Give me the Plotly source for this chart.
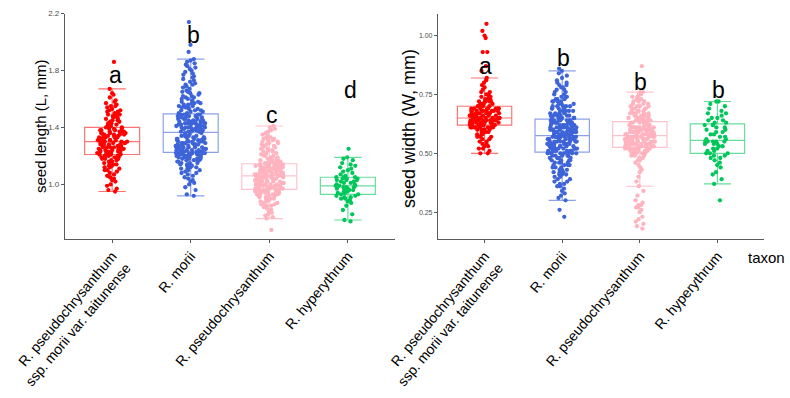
import plotly.graph_objects as go

taxa = ["R. pseudochrysanthum<br>ssp. morii var. taitunense", "R. morii",
        "R. pseudochrysanthum", "R. hyperythrum"]
colors = ["#FF0000", "#3D64D8", "#FFB3BF", "#00C75A"]
box_colors = ["rgba(255,0,0,0.55)", "rgba(61,100,216,0.6)", "rgba(255,179,191,0.8)", "rgba(0,199,90,0.6)"]

# seed length (L, mm)
len_ssp = [0.95, 0.96, 0.97, 0.99, 1.00, 1.02, 1.03, 1.04, 1.05, 1.06, 1.07, 1.08, 1.09, 1.10, 1.10,
           1.11, 1.12, 1.12, 1.13, 1.13, 1.14, 1.14, 1.15, 1.15, 1.16, 1.16, 1.17, 1.17, 1.18, 1.18,
           1.18, 1.19, 1.19, 1.19, 1.20, 1.20, 1.20,
           1.21, 1.21, 1.21, 1.21, 1.22, 1.22, 1.22, 1.22, 1.23, 1.23, 1.23, 1.23, 1.24, 1.24, 1.24, 1.24,
           1.25, 1.25, 1.25, 1.25, 1.26, 1.26, 1.26, 1.26, 1.27, 1.27, 1.27, 1.27, 1.28, 1.28, 1.28, 1.28,
           1.29, 1.29, 1.29, 1.29, 1.30, 1.30,
           1.30, 1.30, 1.31, 1.31, 1.31, 1.31, 1.32, 1.32, 1.32, 1.32, 1.33, 1.33, 1.33, 1.33,
           1.34, 1.34, 1.34, 1.34, 1.35, 1.35, 1.35, 1.35, 1.36, 1.36, 1.36, 1.36, 1.37, 1.37, 1.37, 1.37,
           1.38, 1.38, 1.38, 1.39, 1.39, 1.39, 1.40,
           1.40, 1.41, 1.41, 1.42, 1.42, 1.43, 1.43, 1.44, 1.44, 1.45, 1.45, 1.46, 1.46, 1.47, 1.47,
           1.48, 1.48, 1.49, 1.49, 1.50, 1.50, 1.51, 1.51, 1.52, 1.52, 1.53, 1.54, 1.55, 1.55, 1.56,
           1.57, 1.58, 1.59, 1.61, 1.63, 1.64, 1.67, 1.86]
len_morii = [0.92, 0.93, 0.96, 0.98, 1.00, 1.01, 1.02, 1.03, 1.04, 1.05, 1.06, 1.07, 1.08, 1.08, 1.09,
             1.10, 1.10, 1.11, 1.11, 1.12, 1.12, 1.13, 1.13, 1.14, 1.14, 1.14, 1.15, 1.15, 1.15,
             1.16, 1.16, 1.16, 1.17, 1.17, 1.17, 1.18, 1.18, 1.18, 1.18, 1.19, 1.19, 1.19, 1.19,
             1.20, 1.20, 1.20, 1.20, 1.21, 1.21, 1.21, 1.21, 1.21, 1.22, 1.22, 1.22, 1.22, 1.22, 1.22, 1.22, 1.22,
             1.23, 1.23, 1.23, 1.23, 1.23, 1.24, 1.24, 1.24, 1.24, 1.24, 1.25, 1.25, 1.25, 1.25, 1.25,
             1.26, 1.26, 1.26, 1.26, 1.26, 1.27, 1.27, 1.27, 1.27, 1.27, 1.28, 1.28, 1.28, 1.28, 1.28,
             1.29, 1.29, 1.29, 1.29, 1.29, 1.30, 1.30, 1.30, 1.30, 1.30, 1.31, 1.31, 1.31, 1.31,
             1.32, 1.32, 1.32, 1.32, 1.33, 1.33, 1.33, 1.33, 1.34, 1.34, 1.34, 1.34, 1.35, 1.35, 1.36, 1.36,
             1.37, 1.37, 1.37, 1.37, 1.37, 1.38, 1.38, 1.38, 1.38, 1.38, 1.39, 1.39, 1.39, 1.39, 1.39,
             1.40, 1.40, 1.40, 1.40, 1.40, 1.41, 1.41, 1.41, 1.41, 1.41, 1.42, 1.42, 1.42, 1.42, 1.42,
             1.43, 1.43, 1.43, 1.43, 1.43, 1.44, 1.44, 1.44, 1.44, 1.44, 1.45, 1.45, 1.45, 1.45,
             1.46, 1.46, 1.46, 1.46, 1.47, 1.47, 1.47, 1.47, 1.48, 1.48, 1.48, 1.48, 1.49, 1.49, 1.49, 1.49,
             1.50, 1.50, 1.51, 1.51, 1.52, 1.52, 1.52, 1.53, 1.53, 1.54, 1.54, 1.55, 1.55, 1.55, 1.56, 1.56,
             1.57, 1.57, 1.57, 1.58, 1.58, 1.59, 1.60, 1.60, 1.61, 1.61, 1.62, 1.62, 1.63, 1.64, 1.64,
             1.65, 1.65, 1.66, 1.67, 1.68, 1.69, 1.70, 1.70, 1.71, 1.72, 1.73, 1.74, 1.75, 1.76, 1.77,
             1.78, 1.79, 1.80, 1.81, 1.82, 1.83, 1.84, 1.85, 1.86, 1.87, 1.88, 1.93, 1.98, 2.14]
len_pseudo = [0.68, 0.76, 0.77, 0.78, 0.79, 0.80, 0.81, 0.82, 0.83, 0.84, 0.85, 0.85, 0.86, 0.86, 0.87,
              0.87, 0.88, 0.88, 0.89, 0.89, 0.90, 0.90, 0.90, 0.91, 0.91, 0.91, 0.92, 0.92, 0.92, 0.92,
              0.93, 0.93, 0.93, 0.93, 0.94, 0.94, 0.94, 0.94, 0.94, 0.95, 0.95, 0.95, 0.95, 0.95,
              0.96, 0.96, 0.96, 0.96, 0.96, 0.96,
              0.97, 0.97, 0.97, 0.97, 0.97, 0.98, 0.98, 0.98, 0.98, 0.98, 0.99, 0.99, 0.99, 0.99, 0.99,
              1.00, 1.00, 1.00, 1.00, 1.00, 1.01, 1.01, 1.01, 1.01, 1.01, 1.02, 1.02, 1.02, 1.02, 1.02,
              1.03, 1.03, 1.03, 1.03, 1.03, 1.04, 1.04, 1.04, 1.04, 1.04, 1.05, 1.05, 1.05, 1.05, 1.05,
              1.06, 1.06, 1.06, 1.06, 1.06, 1.06, 1.06,
              1.07, 1.07, 1.07, 1.07, 1.07, 1.07, 1.08, 1.08, 1.08, 1.08, 1.08, 1.08,
              1.09, 1.09, 1.09, 1.09, 1.09, 1.09, 1.10, 1.10, 1.10, 1.10, 1.10, 1.10,
              1.11, 1.11, 1.11, 1.11, 1.11, 1.11, 1.12, 1.12, 1.12, 1.12, 1.12, 1.12,
              1.13, 1.13, 1.13, 1.13, 1.13, 1.13, 1.14, 1.14, 1.14, 1.14, 1.14, 1.14,
              1.15, 1.15, 1.15, 1.16, 1.16, 1.16, 1.17, 1.17, 1.17, 1.18, 1.18, 1.18,
              1.19, 1.19, 1.20, 1.20, 1.21, 1.21, 1.22, 1.22, 1.23, 1.23, 1.24, 1.24, 1.25, 1.25,
              1.26, 1.26, 1.27, 1.27, 1.28, 1.28, 1.29, 1.29, 1.30, 1.30, 1.31, 1.31, 1.32, 1.32,
              1.33, 1.33, 1.34, 1.35, 1.36, 1.37, 1.38, 1.39, 1.40, 1.41]
len_hyper = [0.74, 0.75, 0.79, 0.82, 0.85, 0.87, 0.88, 0.89, 0.90, 0.90, 0.91, 0.91, 0.92, 0.92, 0.93,
             0.93, 0.94, 0.94, 0.95, 0.95, 0.96, 0.96, 0.97, 0.97, 0.97, 0.98, 0.98, 0.98, 0.99, 0.99,
             0.99, 1.00, 1.00, 1.01, 1.01, 1.02, 1.02, 1.03, 1.03, 1.03, 1.04, 1.04, 1.04, 1.05, 1.05,
             1.05, 1.06, 1.07, 1.08, 1.09, 1.10, 1.11, 1.12, 1.13, 1.14, 1.15, 1.17, 1.18, 1.19, 1.25]

# seed width (W, mm)
wid_ssp = [0.50, 0.50, 0.51, 0.52, 0.52, 0.53, 0.53, 0.54, 0.54, 0.55, 0.55, 0.56, 0.56,
           0.57, 0.57, 0.57, 0.58, 0.58, 0.58, 0.59, 0.59, 0.59, 0.59, 0.60, 0.60, 0.60, 0.60, 0.60,
           0.61, 0.61, 0.61, 0.61, 0.61, 0.61, 0.61, 0.61, 0.61,
           0.62, 0.62, 0.62, 0.62, 0.62, 0.62, 0.62, 0.62, 0.62,
           0.63, 0.63, 0.63, 0.63, 0.63, 0.63, 0.63, 0.63, 0.63, 0.63,
           0.64, 0.64, 0.64, 0.64, 0.64, 0.64, 0.64, 0.64, 0.64, 0.64,
           0.65, 0.65, 0.65, 0.65, 0.65, 0.65, 0.65, 0.65, 0.65, 0.65,
           0.66, 0.66, 0.66, 0.66, 0.66, 0.66, 0.66, 0.66, 0.66,
           0.67, 0.67, 0.67, 0.67, 0.67, 0.67, 0.67, 0.67, 0.67,
           0.68, 0.68, 0.68, 0.68, 0.68, 0.68, 0.68, 0.68, 0.68,
           0.69, 0.69, 0.69, 0.69, 0.69, 0.69, 0.69, 0.69, 0.69,
           0.70, 0.70, 0.70, 0.70, 0.70, 0.71, 0.71, 0.71, 0.71, 0.72, 0.72, 0.72, 0.72, 0.72,
           0.73, 0.73, 0.73, 0.74, 0.74, 0.74, 0.75, 0.75, 0.76, 0.76, 0.77, 0.78, 0.79, 0.80,
           0.81, 0.82, 0.85, 0.87, 0.93, 0.93, 0.99, 1.00, 1.02, 1.05]
wid_morii = [0.23, 0.26, 0.30, 0.31, 0.32, 0.33, 0.34, 0.35, 0.36, 0.36, 0.37, 0.37, 0.38, 0.38, 0.39,
             0.39, 0.40, 0.40, 0.41, 0.41, 0.41, 0.42, 0.42, 0.42, 0.43, 0.43, 0.43, 0.44, 0.44, 0.44,
             0.45, 0.45, 0.45, 0.45, 0.46, 0.46, 0.46, 0.46, 0.47, 0.47, 0.47, 0.47,
             0.48, 0.48, 0.48, 0.48, 0.48, 0.49, 0.49, 0.49, 0.49, 0.49,
             0.50, 0.50, 0.50, 0.50, 0.50, 0.50, 0.50, 0.50,
             0.51, 0.51, 0.51, 0.51, 0.51, 0.51, 0.51, 0.51, 0.52, 0.52, 0.52, 0.52, 0.52, 0.52, 0.52, 0.52,
             0.53, 0.53, 0.53, 0.53, 0.53, 0.53, 0.53, 0.53, 0.54, 0.54, 0.54, 0.54, 0.54, 0.54, 0.54, 0.54,
             0.55, 0.55, 0.55, 0.55, 0.55, 0.55, 0.55, 0.55, 0.56, 0.56, 0.56, 0.56, 0.56, 0.56, 0.56, 0.56,
             0.57, 0.57, 0.57, 0.57, 0.57, 0.57, 0.57, 0.57, 0.57, 0.57, 0.57, 0.57,
             0.58, 0.58, 0.58, 0.58, 0.58, 0.58, 0.58, 0.58, 0.58, 0.59, 0.59, 0.59, 0.59, 0.59, 0.59, 0.59, 0.59, 0.59,
             0.60, 0.60, 0.60, 0.60, 0.60, 0.60, 0.60, 0.60, 0.60, 0.61, 0.61, 0.61, 0.61, 0.61, 0.61, 0.61, 0.61, 0.61,
             0.62, 0.62, 0.62, 0.62, 0.62, 0.62, 0.62, 0.62, 0.63, 0.63, 0.63, 0.63, 0.63, 0.63, 0.63, 0.63,
             0.64, 0.64, 0.64, 0.64, 0.64, 0.64, 0.64, 0.64,
             0.65, 0.65, 0.65, 0.65, 0.65, 0.66, 0.66, 0.66, 0.66, 0.66, 0.66, 0.67, 0.67, 0.67, 0.67,
             0.68, 0.68, 0.68, 0.68, 0.68, 0.69, 0.69, 0.69, 0.69, 0.70, 0.70, 0.70, 0.70, 0.70,
             0.71, 0.71, 0.71, 0.72, 0.72, 0.72, 0.72, 0.73, 0.73, 0.73, 0.74, 0.74, 0.74,
             0.75, 0.75, 0.76, 0.76, 0.77, 0.77, 0.78, 0.78, 0.79, 0.79, 0.80, 0.80,
             0.81, 0.82, 0.83, 0.84, 0.85, 0.86]
wid_pseudo = [0.18, 0.19, 0.20, 0.21, 0.22, 0.23, 0.25, 0.26, 0.27, 0.27, 0.28, 0.28, 0.29, 0.30,
              0.32, 0.34, 0.36, 0.38, 0.40, 0.42, 0.43, 0.44, 0.45, 0.46, 0.47, 0.47, 0.48, 0.48,
              0.49, 0.49, 0.49, 0.50, 0.50, 0.50, 0.50, 0.51, 0.51, 0.51, 0.51, 0.51,
              0.52, 0.52, 0.52, 0.52, 0.52, 0.52, 0.52, 0.52, 0.52, 0.52,
              0.53, 0.53, 0.53, 0.53, 0.53, 0.53, 0.53, 0.53, 0.53, 0.53,
              0.54, 0.54, 0.54, 0.54, 0.54, 0.54, 0.54, 0.54, 0.54, 0.54,
              0.55, 0.55, 0.55, 0.55, 0.55, 0.55, 0.55, 0.55, 0.55, 0.55,
              0.56, 0.56, 0.56, 0.56, 0.56, 0.56, 0.56, 0.56, 0.56, 0.56,
              0.57, 0.57, 0.57, 0.57, 0.57, 0.57, 0.57, 0.57, 0.57, 0.57,
              0.58, 0.58, 0.58, 0.58, 0.58, 0.58, 0.58, 0.58, 0.58, 0.58,
              0.59, 0.59, 0.59, 0.59, 0.59, 0.59, 0.59, 0.59, 0.59, 0.59,
              0.60, 0.60, 0.60, 0.60, 0.60, 0.60, 0.60, 0.60, 0.60, 0.60,
              0.61, 0.61, 0.61, 0.61, 0.61, 0.61, 0.61, 0.61, 0.61, 0.61,
              0.62, 0.62, 0.62, 0.62, 0.62, 0.63, 0.63, 0.63, 0.63, 0.63,
              0.64, 0.64, 0.64, 0.64, 0.64, 0.64, 0.65, 0.65, 0.65, 0.65, 0.65, 0.65,
              0.66, 0.66, 0.66, 0.66, 0.66, 0.67, 0.67, 0.67, 0.67, 0.67,
              0.68, 0.68, 0.68, 0.68, 0.69, 0.69, 0.69, 0.69, 0.70, 0.70, 0.70, 0.70,
              0.71, 0.71, 0.71, 0.72, 0.72, 0.72, 0.73, 0.73, 0.73, 0.74, 0.74, 0.75, 0.75,
              0.76, 0.76, 0.87]
wid_hyper = [0.30, 0.37, 0.39, 0.41, 0.42, 0.44, 0.45, 0.46, 0.47, 0.48, 0.48, 0.49, 0.49, 0.50, 0.50,
             0.50, 0.51, 0.51, 0.52, 0.52, 0.53, 0.53, 0.54, 0.54, 0.54, 0.55, 0.55, 0.55, 0.55, 0.55,
             0.56, 0.56, 0.57, 0.57, 0.58, 0.58, 0.59, 0.59, 0.60, 0.60, 0.61, 0.61, 0.62, 0.62, 0.62,
             0.63, 0.63, 0.64, 0.64, 0.65, 0.65, 0.66, 0.67, 0.67, 0.68, 0.69, 0.70, 0.71, 0.72, 0.72]

length_groups = [len_ssp, len_morii, len_pseudo, len_hyper]
width_groups = [wid_ssp, wid_morii, wid_pseudo, wid_hyper]

length_letters = ["a", "b", "c", "d"]
length_letter_y = [1.767, 2.05, 1.486, 1.66]
width_letters = ["a", "b", "b", "b"]
width_letter_y = [0.870, 0.905, 0.802, 0.768]

length_ticks = [1.0, 1.4, 1.8, 2.2]
width_ticks = [0.25, 0.50, 0.75, 1.00]

fig = go.Figure()

for panel, groups in enumerate([length_groups, width_groups]):
    xa = "x" if panel == 0 else "x2"
    ya = "y" if panel == 0 else "y2"
    for i, vals in enumerate(groups):
        fig.add_trace(go.Box(
            x=[taxa[i]] * len(vals), y=vals, xaxis=xa, yaxis=ya,
            boxpoints="all", jitter=0.55, pointpos=0, width=0.7,
            line=dict(color=box_colors[i], width=1.2),
            fillcolor="rgba(255,255,255,0)",
            marker=dict(color=colors[i], size=4.3, line=dict(width=0)),
            showlegend=False, hoverinfo="y",
        ))

axis_line = "#5a5a5a"
common_x = dict(type="category", categoryorder="array", categoryarray=taxa,
                range=[-0.6, 3.6], showline=True, linecolor=axis_line, linewidth=1.2,
                ticks="outside", ticklen=3, tickcolor=axis_line, tickangle=-50,
                tickfont=dict(family="Liberation Sans, Arial", size=14, color="black"),
                showgrid=False, zeroline=False, automargin=False)
common_y = dict(showline=True, linecolor=axis_line, linewidth=1.2, ticks="outside",
                ticklen=3, tickcolor=axis_line, showgrid=False, zeroline=False,
                automargin=False)

ydom = [1 - 238.5 / 398, 1 - 13.5 / 398]
fig.update_layout(
    width=790, height=398, margin=dict(l=0, r=0, t=0, b=0),
    template="none", paper_bgcolor="white", plot_bgcolor="white",
    boxmode="overlay",
    font=dict(family="Liberation Sans, Arial"),
    xaxis=dict(domain=[65 / 790, 395 / 790], anchor="y", **common_x),
    xaxis2=dict(domain=[438 / 790, 764 / 790], anchor="y2", **common_x),
    yaxis=dict(domain=ydom, anchor="x", range=[0.62, 2.2], tickvals=length_ticks,
               ticktext=[f"{v:.1f}" for v in length_ticks],
               tickfont=dict(size=8, color="#4d4d4d"), **common_y),
    yaxis2=dict(domain=ydom, anchor="x2", range=[0.138, 1.094], tickvals=width_ticks,
                ticktext=[f"{v:.2f}" for v in width_ticks],
                tickfont=dict(size=7, color="#4d4d4d"), **common_y),
)

annotations = []
for i, (t, yv) in enumerate(zip(length_letters, length_letter_y)):
    annotations.append(dict(x=taxa[i], y=yv, xref="x", yref="y", text=t, showarrow=False,
                            xanchor="center", yanchor="middle",
                            font=dict(size=23, color="black"), xshift=3))
for i, (t, yv) in enumerate(zip(width_letters, width_letter_y)):
    annotations.append(dict(x=taxa[i], y=yv, xref="x2", yref="y2", text=t, showarrow=False,
                            xanchor="center", yanchor="middle",
                            font=dict(size=23, color="black"), xshift=1))
annotations.append(dict(x=40 / 790, y=1 - 127 / 398, xref="paper", yref="paper",
                        xanchor="center", yanchor="middle",
                        text="seed length (L, mm)", textangle=-90, showarrow=False,
                        font=dict(size=15, color="black")))
annotations.append(dict(x=409 / 790, y=1 - 129 / 398, xref="paper", yref="paper",
                        xanchor="center", yanchor="middle",
                        text="seed width (W, mm)", textangle=-90, showarrow=False,
                        font=dict(size=18, color="black")))
annotations.append(dict(x=766 / 790, y=1 - 257 / 398, xref="paper", yref="paper",
                        xanchor="center", yanchor="middle",
                        text="taxon", showarrow=False, font=dict(size=15, color="black")))
fig.update_layout(annotations=annotations)

fig.write_html("out.html")
